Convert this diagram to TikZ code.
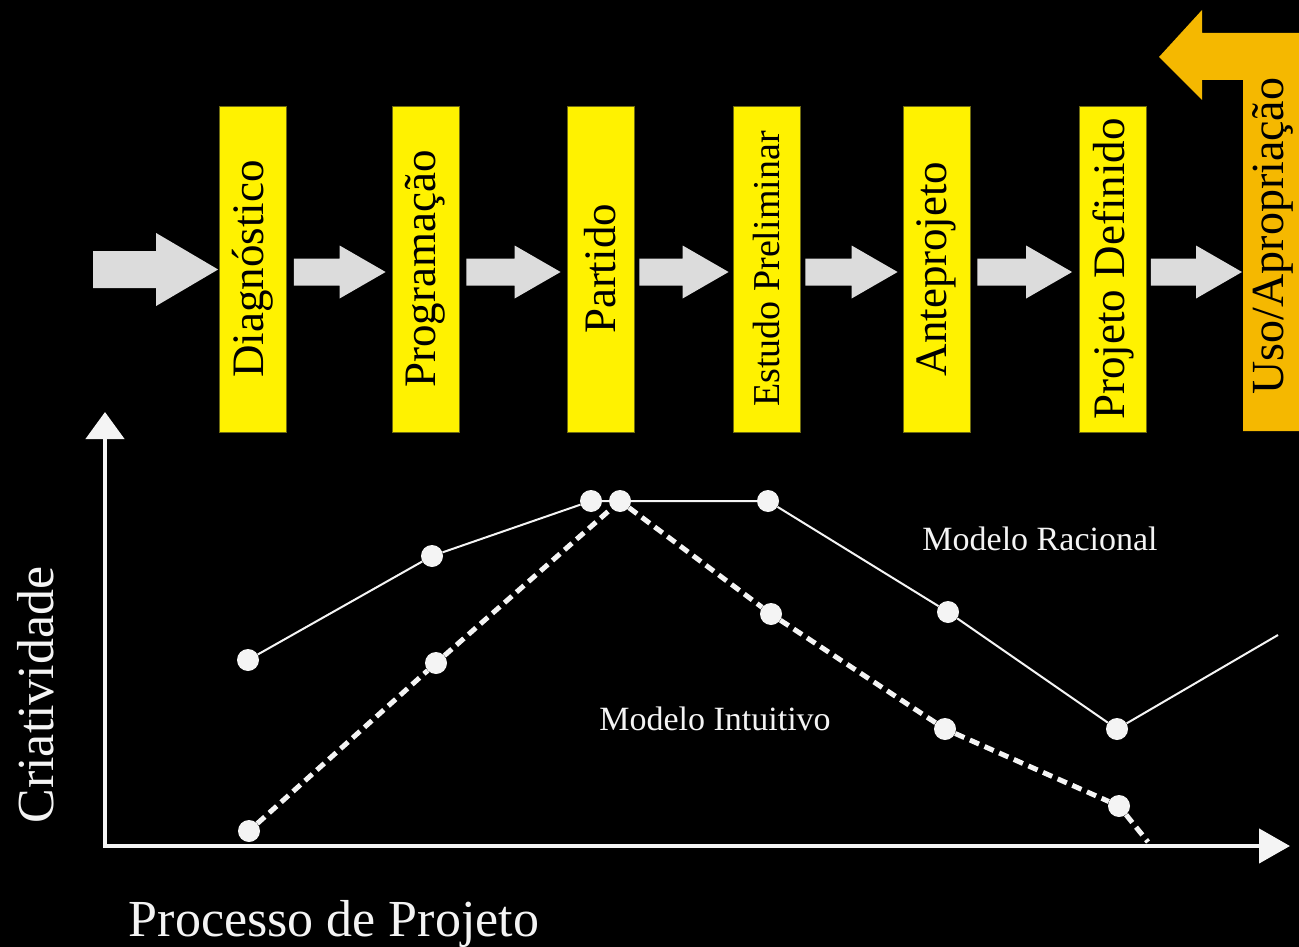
\documentclass[tikz,border=0pt]{standalone}
\usepackage{fontspec}
\setmainfont{Liberation Serif}
\usetikzlibrary{arrows.meta,calc}

\definecolor{stageyellow}{HTML}{FFF200}
\definecolor{stageedge}{HTML}{6E6A10}
\definecolor{flowgray}{HTML}{DCDCDC}
\definecolor{useorange}{HTML}{F5B800}
\definecolor{inkwhite}{HTML}{F4F4F4}

% block arrow from a start point to a target point (half shaft, half head, head length)
\newcommand\flowarrow[5]{%
  \fill[flowgray] let \p1=(#1), \p2=(#2) in
    (\x1,\y2+#3) -- (\x2-#5,\y2+#3) -- (\x2-#5,\y2+#4) -- (\x2,\y2)
    -- (\x2-#5,\y2-#4) -- (\x2-#5,\y2-#3) -- (\x1,\y2-#3) -- cycle;}

\begin{document}
\begin{tikzpicture}[x=1pt,y=-1pt,
  stagebox/.style={draw=stageedge, line width=0.8pt, fill=stageyellow, rotate=90,
    minimum width=326pt, minimum height=67pt, inner sep=0pt, text=black,
    font=\fontsize{45}{50}\selectfont},
  dot/.style={circle, fill=inkwhite, minimum size=22pt, inner sep=0pt},
  rational/.style={draw=inkwhite, line width=2pt},
  intuitive/.style={draw=inkwhite, line width=5pt, dash pattern=on 10pt off 6pt},
  axisline/.style={draw=inkwhite, line width=4.5pt},
  tag/.style={text=inkwhite, inner sep=0pt, font=\fontsize{34}{38}\selectfont},
  bigtag/.style={text=inkwhite, inner sep=0pt, font=\fontsize{52}{58}\selectfont}]

% page
\fill[black] (0,0) rectangle (1299,947);
\useasboundingbox (0,0) rectangle (1299,947);

% process stages
\node[stagebox] (diag) at (253,269) {Diagnóstico};
\node[stagebox] (prog) at (425.5,269) {Programação};
\node[stagebox] (part) at (600.5,269) {Partido};
\node[stagebox, font=\fontsize{38}{42}\selectfont] (estu) at (766.5,269) {Estudo Preliminar};
\node[stagebox] (ante) at (936.5,269) {Anteprojeto};
\node[stagebox] (defi) at (1113,269) {Projeto Definido};

% use / appropriation stage with the feedback arrow
\fill[useorange] (1299,33) -- (1202,33) -- (1202,10) -- (1159,57) -- (1202,100)
  -- (1202,80) -- (1243,80) -- (1243,431) -- (1299,431) -- cycle;
\node[rotate=90, inner sep=0pt, text=black, font=\fontsize{46}{50}\selectfont]
  (uso) at (1273,236) {Uso/Apropriação};
\coordinate (usoedge) at (1242,272);

% flow between stages
\coordinate (entry) at (93,269.5);
\flowarrow{entry}{$(diag.north)+(-1,0.5)$}{18.5pt}{36.5pt}{62pt}
\flowarrow{$(diag.south)+(7,0)$}{$(prog.north)+(-6,3)$}{13.5pt}{26.5pt}{46pt}
\flowarrow{$(prog.south)+(7,0)$}{$(part.north)+(-6,3)$}{13.5pt}{26.5pt}{46pt}
\flowarrow{$(part.south)+(5,0)$}{$(estu.north)+(-4,3)$}{13.5pt}{26.5pt}{46pt}
\flowarrow{$(estu.south)+(5,0)$}{$(ante.north)+(-5,3)$}{13.5pt}{26.5pt}{46pt}
\flowarrow{$(ante.south)+(7,0)$}{$(defi.north)+(-7,3)$}{13.5pt}{26.5pt}{46pt}
\flowarrow{$(defi.south)+(4,0)$}{usoedge}{13.5pt}{26.5pt}{46pt}

% axes
\coordinate (origin) at (105,846);
\coordinate (ytop) at (105,412);
\coordinate (xend) at (1290,846);
\draw[axisline, -{Triangle[length=27pt,width=38pt]}] ($(origin)+(0,2)$) -- (ytop);
\draw[axisline, -{Triangle[length=31pt,width=34pt]}] ($(origin)+(-2,0)$) -- (xend);

% rational model
\node[dot] (r1) at (248,660) {};
\node[dot] (r2) at (432,556) {};
\node[dot] (r3) at (591,501) {};
\node[dot] (r4) at (768,501) {};
\node[dot] (r5) at (948,612) {};
\node[dot] (r6) at (1117,729) {};
\coordinate (rend) at (1278,635);
\draw[rational] (r1) -- (r2) -- (r3) -- (r4) -- (r5) -- (r6) -- (rend);

% intuitive model
\node[dot] (i1) at (249,831) {};
\node[dot] (i2) at (436,663) {};
\node[dot] (i3) at (620,501) {};
\node[dot] (i4) at (771,614) {};
\node[dot] (i5) at (945,729) {};
\node[dot] (i6) at (1119,806) {};
\coordinate (iend) at (1148,842);
\draw[intuitive] (i1) -- (i2) -- (i3) -- (i4) -- (i5) -- (i6) -- (iend);

% labels
\node[tag] (ratlabel) at (1040,539) {Modelo Racional};
\node[tag] (intlabel) at (715,719) {Modelo Intuitivo};
\node[bigtag, rotate=90] (ylabel) at (36,695) {Criatividade};
\node[bigtag] (xlabel) at (334,924) {Processo de Projeto};
\end{tikzpicture}
\end{document}
